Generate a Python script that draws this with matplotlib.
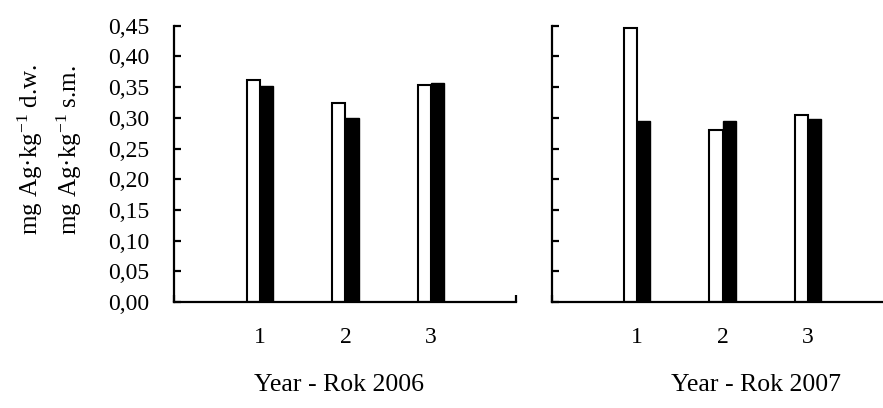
import matplotlib.pyplot as plt
from matplotlib.ticker import FixedLocator, FixedFormatter

plt.rcParams['font.family'] = ['Liberation Serif', 'DejaVu Serif']
plt.rcParams['mathtext.fontset'] = 'custom'
plt.rcParams['mathtext.rm'] = 'Liberation Serif'
plt.rcParams['mathtext.it'] = 'Liberation Serif:italic'

# dane
kategorie = ['1', '2', '3']
biale_2006 = [0.362, 0.324, 0.353]
czarne_2006 = [0.352, 0.300, 0.357]
biale_2007 = [0.447, 0.280, 0.304]
czarne_2007 = [0.295, 0.295, 0.298]
y_ticks = [0.0, 0.05, 0.10, 0.15, 0.20, 0.25, 0.30, 0.35, 0.40, 0.45]
y_etykiety = ['0,00', '0,05', '0,10', '0,15', '0,20', '0,25', '0,30', '0,35', '0,40', '0,45']
tytuly = ['Year - Rok 2006', 'Year - Rok 2007']

fs = 17
szer = 0.155

fig = plt.figure(figsize=(8.83, 4.08), dpi=100)
ax1 = fig.add_axes([0.1976, 0.2598, 0.3873, 0.6772])
ax2 = fig.add_axes([0.6248, 0.2598, 0.3873, 0.6772])

for ax, biale, czarne in [(ax1, biale_2006, czarne_2006), (ax2, biale_2007, czarne_2007)]:
    x = [1, 2, 3]
    ax.bar([i - szer / 2 for i in x], biale, width=szer, color='white', edgecolor='black', linewidth=1.5)
    ax.bar([i + szer / 2 for i in x], czarne, width=szer, color='black', edgecolor='black', linewidth=1.0)
    ax.set_xlim(0, 4)
    ax.set_ylim(0, 0.45)
    ax.spines['top'].set_visible(False)
    ax.spines['right'].set_visible(False)
    ax.spines['left'].set_linewidth(1.6)
    ax.spines['bottom'].set_linewidth(1.6)
    ax.xaxis.set_major_locator(FixedLocator(x))
    ax.xaxis.set_major_formatter(FixedFormatter(kategorie))
    ax.xaxis.set_minor_locator(FixedLocator([0, 4]))
    ax.tick_params(axis='x', which='major', length=0, pad=18, labelsize=fs)
    ax.tick_params(axis='x', which='minor', direction='in', length=5, width=1.6)
    ax.yaxis.set_major_locator(FixedLocator(y_ticks))
    ax.tick_params(axis='y', direction='in', length=5, width=1.6, pad=18, labelsize=fs)

ax1.yaxis.set_major_formatter(FixedFormatter(y_etykiety))
ax2.set_yticklabels([])

fig.text(0.384, 0.056, tytuly[0], fontsize=18.5, ha='center', va='center')
fig.text(0.856, 0.056, tytuly[1], fontsize=18.5, ha='center', va='center')

fig.text(0.034, 0.424, r'mg Ag·kg$^{-1}$ d.w.', fontsize=18, rotation=90, ha='center', va='bottom')
fig.text(0.079, 0.424, r'mg Ag·kg$^{-1}$ s.m.', fontsize=18, rotation=90, ha='center', va='bottom')

plt.savefig('out.png', dpi=100)
